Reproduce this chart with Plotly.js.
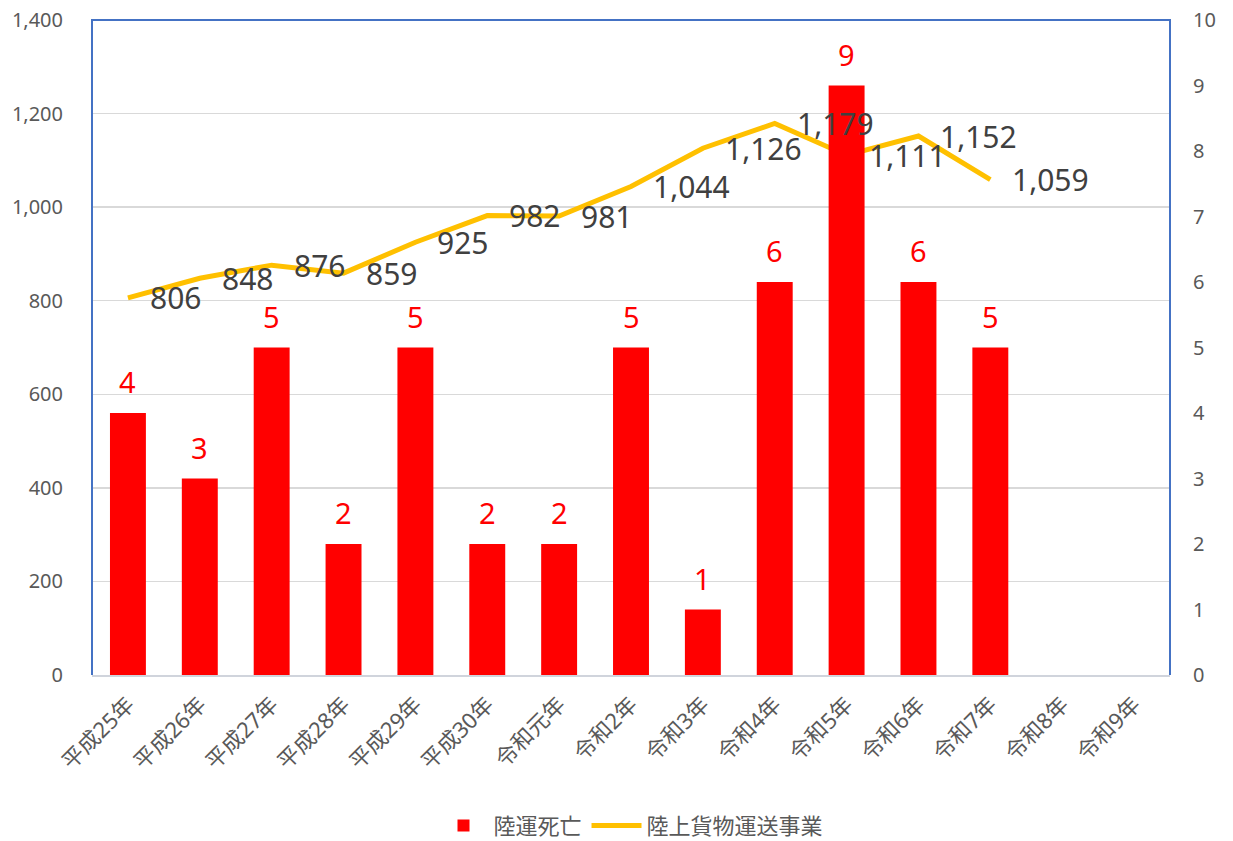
<!DOCTYPE html>
<html><head><meta charset="utf-8">
<script src="https://cdn.plot.ly/plotly-3.0.1.min.js"></script>
<style>html,body{margin:0;padding:0;background:#fff;}#chart{width:1233px;height:841px;}</style>
</head><body><div id="chart"></div>
<script>
const categories = ["平成25年","平成26年","平成27年","平成28年","平成29年","平成30年","令和元年","令和2年","令和3年","令和4年","令和5年","令和6年","令和7年","令和8年","令和9年"];
const deaths = [4,3,5,2,5,2,2,5,1,6,9,6,5,null,null];
const freight = [806,848,876,859,925,982,981,1044,1126,1179,1111,1152,1059,null,null];
const leftTicks = [0,200,400,600,800,1000,1200,1400];
const rightTicks = [0,1,2,3,4,5,6,7,8,9,10];

const fontFam = "Noto Sans, Noto Sans CJK JP, sans-serif";
const annotations = [];
categories.forEach((c,i)=>{
  if (deaths[i] != null) annotations.push({x:c, y:deaths[i], xref:'x', yref:'y2', text:String(deaths[i]),
    showarrow:false, yanchor:'bottom', yshift:10, font:{size:29, color:'#FF0000', family:fontFam}});
  if (freight[i] != null) annotations.push({x:c, y:freight[i], xref:'x', yref:'y', text:freight[i].toLocaleString('en-US'),
    showarrow:false, xanchor:'left', yanchor:'middle', xshift:20, font:{size:30, color:'#404040', family:fontFam}});
});

const traces = [
  {type:'bar', name:'陸運死亡', x:categories, y:deaths, yaxis:'y2', marker:{color:'#FF0000'}, width:0.5, hoverinfo:'skip'},
  {type:'scatter', mode:'lines', name:'陸上貨物運送事業', x:categories, y:freight, yaxis:'y', line:{color:'#FFC000', width:5}, hoverinfo:'skip'}
];

const layout = {
  width:1233, height:841,
  margin:{l:92, r:63, t:20, b:166, autoexpand:false},
  paper_bgcolor:'#fff', plot_bgcolor:'#fff',
  font:{family:fontFam, color:'#595959', size:20},
  showlegend:true,
  legend:{orientation:'h', x:0.5, xanchor:'center', y:-0.23, yanchor:'middle', font:{size:22, color:'#595959'}, traceorder:'normal', itemwidth:50},
  xaxis:{type:'category', categoryarray:categories, tickangle:-45, tickfont:{size:22, color:'#595959'}, automargin:false,
    showline:true, linecolor:'#D0D4DC', linewidth:2, ticks:'', showgrid:false, range:[-0.5,14.5], ticklabelstandoff:6},
  yaxis:{range:[0,1400], tickvals:leftTicks, ticktext:leftTicks.map(v=>v.toLocaleString('en-US')), gridcolor:'#D9D9D9', gridwidth:1.5,
    zeroline:false, showline:false, ticks:'', ticklabelstandoff:28, tickfont:{size:20, color:'#595959'}, automargin:false},
  yaxis2:{range:[0,10], overlaying:'y', side:'right', tickvals:rightTicks, showgrid:false, zeroline:false, automargin:false,
    showline:false, ticks:'', ticklabelstandoff:22, tickfont:{size:20, color:'#595959'}},
  shapes:[{type:'path', xref:'paper', yref:'paper', path:'M0,0 L0,1 L1,1 L1,0', line:{color:'#4472C4', width:2}}],
  annotations:annotations
};
Plotly.newPlot('chart', traces, layout, {displayModeBar:false, staticPlot:true});
</script></body></html>
